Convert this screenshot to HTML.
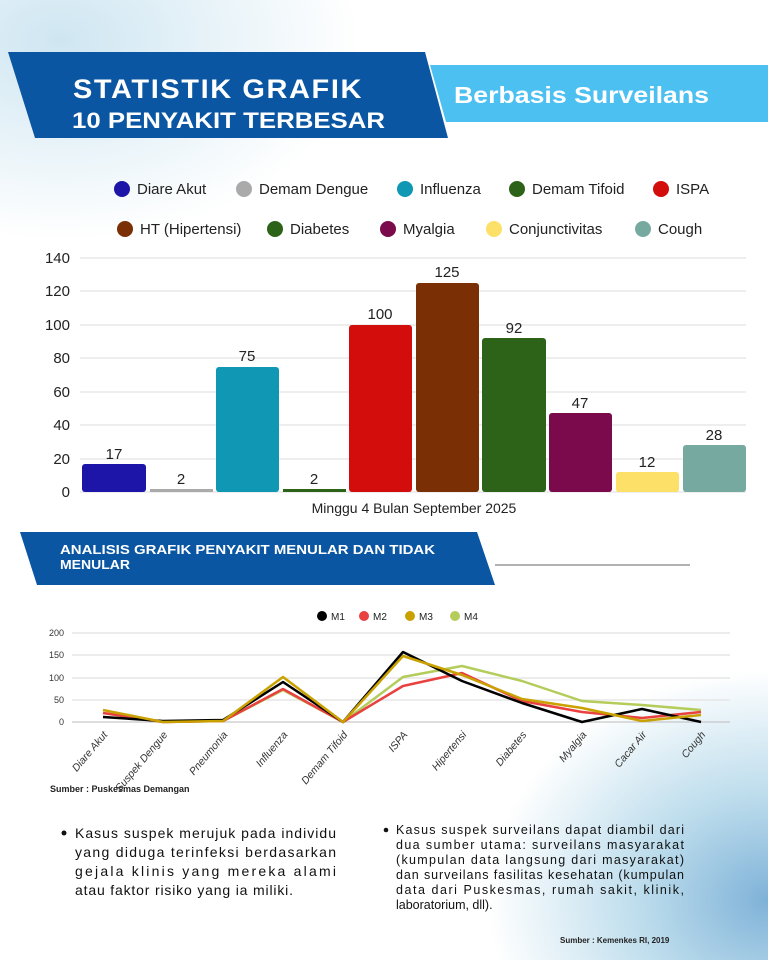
<!DOCTYPE html>
<html><head><meta charset="utf-8"><style>
body{margin:0;width:768px;height:960px;overflow:hidden;font-family:"Liberation Sans",sans-serif;}
.bg{position:absolute;left:0;top:0;width:768px;height:960px;background:
radial-gradient(ellipse 300px 200px at 60px 40px,#cfe6f2 0%,rgba(255,255,255,0) 100%),
radial-gradient(ellipse 280px 230px at 768px 900px,#7fb2d8 0%,#bcdcec 45%,rgba(255,255,255,0) 100%),#fff;}
svg{position:absolute;left:0;top:0}
</style></head><body><div class="bg"></div>
<svg width="768" height="960" viewBox="0 0 768 960" font-family="Liberation Sans, sans-serif">
<polygon points="430,65 768,65 768,122 446,122" fill="#4dc0f2"/>
<polygon points="8,52 425,52 448,138 35,138" fill="#0a56a2"/>
<text x="73" y="98" fill="#fff" font-size="27" font-weight="bold" textLength="290" lengthAdjust="spacingAndGlyphs" letter-spacing="1.5">STATISTIK GRAFIK</text>
<text x="72" y="128" fill="#fff" font-size="22" font-weight="bold" textLength="313" lengthAdjust="spacingAndGlyphs">10 PENYAKIT TERBESAR</text>
<text x="454" y="103" fill="#fff" font-size="23" font-weight="bold" textLength="255" lengthAdjust="spacingAndGlyphs">Berbasis Surveilans</text>
<g font-size="15" fill="#222">
<circle cx="122" cy="189" r="8" fill="#1d14a8"/><text x="137" y="194">Diare Akut</text>
<circle cx="244" cy="189" r="8" fill="#aaa"/><text x="259" y="194">Demam Dengue</text>
<circle cx="405" cy="189" r="8" fill="#0f97b3"/><text x="420" y="194">Influenza</text>
<circle cx="517" cy="189" r="8" fill="#2c6318"/><text x="532" y="194">Demam Tifoid</text>
<circle cx="661" cy="189" r="8" fill="#d30c0c"/><text x="676" y="194">ISPA</text>
<circle cx="125" cy="229" r="8" fill="#7a2f05"/><text x="140" y="234">HT (Hipertensi)</text>
<circle cx="275" cy="229" r="8" fill="#2c6318"/><text x="290" y="234">Diabetes</text>
<circle cx="388" cy="229" r="8" fill="#7a0a4b"/><text x="403" y="234">Myalgia</text>
<circle cx="494" cy="229" r="8" fill="#fde067"/><text x="509" y="234">Conjunctivitas</text>
<circle cx="643" cy="229" r="8" fill="#76aaa0"/><text x="658" y="234">Cough</text>
</g>
<g stroke="#ddd" stroke-width="1">
<line x1="80" y1="258" x2="746" y2="258"/><line x1="80" y1="291" x2="746" y2="291"/><line x1="80" y1="325" x2="746" y2="325"/><line x1="80" y1="358" x2="746" y2="358"/><line x1="80" y1="392" x2="746" y2="392"/><line x1="80" y1="425" x2="746" y2="425"/><line x1="80" y1="459" x2="746" y2="459"/><line x1="80" y1="492" x2="746" y2="492"/>
</g>
<g font-size="15" fill="#222" text-anchor="end">
<text x="70" y="263">140</text><text x="70" y="296">120</text><text x="70" y="330">100</text><text x="70" y="363">80</text><text x="70" y="397">60</text><text x="70" y="430">40</text><text x="70" y="464">20</text><text x="70" y="497">0</text>
</g>
<g>
<rect x="82" y="464" width="64" height="28" rx="3" fill="#1d14a8"/>
<rect x="150" y="489" width="63" height="3" fill="#aaa"/>
<rect x="216" y="367" width="63" height="125" rx="3" fill="#0f97b3"/>
<rect x="283" y="489" width="63" height="3" fill="#2c6318"/>
<rect x="349" y="325" width="63" height="167" rx="3" fill="#d30c0c"/>
<rect x="416" y="283" width="63" height="209" rx="3" fill="#7a2f05"/>
<rect x="482" y="338" width="64" height="154" rx="3" fill="#2c6318"/>
<rect x="549" y="413" width="63" height="79" rx="3" fill="#7a0a4b"/>
<rect x="616" y="472" width="63" height="20" rx="3" fill="#fde067"/>
<rect x="683" y="445" width="63" height="47" rx="3" fill="#76aaa0"/>
</g>
<g font-size="15" fill="#222" text-anchor="middle">
<text x="114" y="459">17</text><text x="181" y="484">2</text><text x="247" y="361">75</text><text x="314" y="484">2</text><text x="380" y="319">100</text><text x="447" y="277">125</text><text x="514" y="333">92</text><text x="580" y="408">47</text><text x="647" y="467">12</text><text x="714" y="440">28</text>
<text x="414" y="513" font-size="14">Minggu 4 Bulan September 2025</text>
</g>
<polygon points="20,532 477,532 495,585 37,585" fill="#0a56a2"/>
<line x1="495" y1="565" x2="690" y2="565" stroke="#999" stroke-width="1.5"/>
<text x="60" y="554" fill="#fff" font-size="12.5" font-weight="bold" textLength="375" lengthAdjust="spacingAndGlyphs">ANALISIS GRAFIK PENYAKIT MENULAR DAN TIDAK</text>
<text x="60" y="569" fill="#fff" font-size="12.5" font-weight="bold" textLength="70" lengthAdjust="spacingAndGlyphs">MENULAR</text>
<g font-size="10" fill="#222">
<circle cx="322" cy="616" r="5" fill="#000"/><text x="331" y="620">M1</text>
<circle cx="364" cy="616" r="5" fill="#e8413f"/><text x="373" y="620">M2</text>
<circle cx="410" cy="616" r="5" fill="#c9a100"/><text x="419" y="620">M3</text>
<circle cx="455" cy="616" r="5" fill="#b4cc5a"/><text x="464" y="620">M4</text>
</g>
<g stroke="#e6e6e6" stroke-width="1.5">
<line x1="72" y1="633" x2="730" y2="633"/><line x1="72" y1="655" x2="730" y2="655"/><line x1="72" y1="678" x2="730" y2="678"/><line x1="72" y1="700" x2="730" y2="700"/>
</g>
<line x1="72" y1="722" x2="730" y2="722" stroke="#bbb" stroke-width="1"/>
<g font-size="9" fill="#333" text-anchor="end">
<text x="64" y="636">200</text><text x="64" y="658">150</text><text x="64" y="681">100</text><text x="64" y="703">50</text><text x="64" y="725">0</text>
</g>
<g fill="none" stroke-width="2.5" stroke-linejoin="round">
<polyline stroke="#b4cc5a" points="103,713 163,722 223,721 283,690 343,722 403,677 462,666 522,681 582,701 642,705 701,710"/>
<polyline stroke="#e8413f" points="103,713 163,722 223,721 283,689 343,722 403,686 462,673 522,701 582,712 642,718 701,712"/>
<polyline stroke="#000" points="103,717 163,721 223,720 283,682 343,722 403,652 462,681 522,703 582,722 642,709 701,722"/>
<polyline stroke="#c9a100" points="103,710 163,722 223,721 283,677 343,722 403,656 462,675 522,699 582,708 642,721 701,715"/>
</g>
<g font-size="10.5" fill="#333" font-style="italic" text-anchor="end">
<text transform="translate(108,735) rotate(-50)">Diare Akut</text>
<text transform="translate(168,735) rotate(-50)">Suspek Dengue</text>
<text transform="translate(228,735) rotate(-50)">Pneumonia</text>
<text transform="translate(288,735) rotate(-50)">Influenza</text>
<text transform="translate(348,735) rotate(-50)">Demam Tifoid</text>
<text transform="translate(408,735) rotate(-50)">ISPA</text>
<text transform="translate(467,735) rotate(-50)">Hipertensi</text>
<text transform="translate(527,735) rotate(-50)">Diabetes</text>
<text transform="translate(587,735) rotate(-50)">Myalgia</text>
<text transform="translate(647,735) rotate(-50)">Cacar Air</text>
<text transform="translate(706,735) rotate(-50)">Cough</text>
</g>
<text x="50" y="792" font-size="9" font-weight="bold" fill="#222">Sumber : Puskesmas Demangan</text>
<g font-size="14" fill="#111">
<circle cx="64" cy="833" r="2.5" fill="#111"/>
<text x="75" y="838" textLength="261">Kasus suspek merujuk pada individu</text>
<text x="75" y="857" textLength="261">yang diduga terinfeksi berdasarkan</text>
<text x="75" y="876" textLength="261">gejala klinis yang mereka alami</text>
<text x="75" y="895" textLength="218">atau faktor risiko yang ia miliki.</text>
</g>
<g font-size="12.5" fill="#111">
<circle cx="386" cy="830" r="2.3" fill="#111"/>
<text x="396" y="834" textLength="288">Kasus suspek surveilans dapat diambil dari</text>
<text x="396" y="849" textLength="288">dua sumber utama: surveilans masyarakat</text>
<text x="396" y="864" textLength="288">(kumpulan data langsung dari masyarakat)</text>
<text x="396" y="879" textLength="288">dan surveilans fasilitas kesehatan (kumpulan</text>
<text x="396" y="894" textLength="288">data dari Puskesmas, rumah sakit, klinik,</text>
<text x="396" y="909">laboratorium, dll).</text>
</g>
<text x="560" y="943" font-size="8" font-weight="bold" fill="#222">Sumber : Kemenkes RI, 2019</text>
</svg></body></html>
